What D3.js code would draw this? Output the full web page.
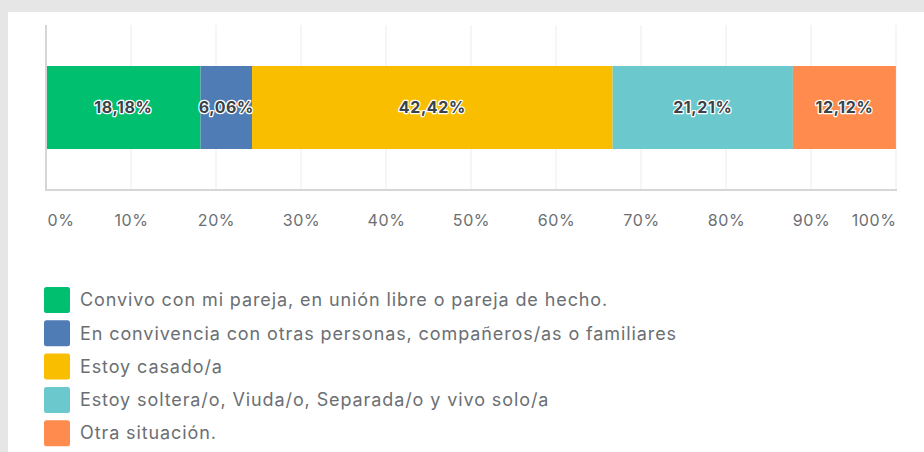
<!DOCTYPE html>
<html>
<head>
<meta charset="utf-8">
<script src="https://cdn.jsdelivr.net/npm/d3@7"></script>
<style>
  body { margin: 0; background: #e6e6e6; }
  svg { display: block; }
</style>
</head>
<body>
<div id="chart-area"></div>
<script>
const categories = [
  "Convivo con mi pareja, en unión libre o pareja de hecho.",
  "En convivencia con otras personas, compañeros/as o familiares",
  "Estoy casado/a",
  "Estoy soltera/o, Viuda/o, Separada/o y vivo solo/a",
  "Otra situación."
]
const values = [18.18, 6.06, 42.42, 21.21, 12.12]
const valueLabels = ["18,18%", "6,06%", "42,42%", "21,21%", "12,12%"]
const colors = ["#00bf6f", "#507cb6", "#f9be00", "#6bc8cd", "#ff8b4f"]
const tickValues = [0, 10, 20, 30, 40, 50, 60, 70, 80, 90, 100]

const W = 924, H = 452
const MARGIN = {LEFT: 46, RIGHT: 28, TOP: 25}
const PLOT_BOTTOM = 190

const svg = d3.select("#chart-area").append("svg")
  .attr("width", W)
  .attr("height", H)

// white card
svg.append("rect")
  .attr("x", 8).attr("y", 12)
  .attr("width", W).attr("height", H)
  .attr("fill", "#fff")

const x = d3.scaleLinear()
  .domain([0, 100])
  .range([MARGIN.LEFT, W - MARGIN.RIGHT])

const y = d3.scaleBand()
  .domain(["row"])
  .range([MARGIN.TOP, PLOT_BOTTOM])
  .paddingInner(0)
  .paddingOuter(0.494)

// gridlines
svg.append("g").selectAll("line")
  .data(tickValues.slice(1))
  .enter().append("line")
  .attr("x1", d => x(d)).attr("x2", d => x(d))
  .attr("y1", MARGIN.TOP).attr("y2", PLOT_BOTTOM)
  .attr("stroke", "#ececec")
  .attr("stroke-width", 1)

// stacked segments
let acc = 0
const segs = values.map((v, i) => {
  const s = {start: acc, end: acc + v, label: valueLabels[i], color: colors[i]}
  acc += v
  return s
})

svg.append("g").selectAll("rect")
  .data(segs)
  .enter().append("rect")
  .attr("x", d => x(d.start))
  .attr("y", y("row"))
  .attr("width", d => x(d.end) - x(d.start))
  .attr("height", y.bandwidth())
  .attr("fill", d => d.color)

svg.append("g").selectAll("text")
  .data(segs)
  .enter().append("text")
  .attr("x", d => (x(d.start) + x(d.end)) / 2)
  .attr("y", y("row") + y.bandwidth() / 2)
  .attr("dy", "0.36em")
  .attr("text-anchor", "middle")
  .attr("font-family", "Inter, Roboto, sans-serif")
  .attr("font-weight", "700")
  .attr("font-size", "16px")
  .attr("letter-spacing", "0.6px")
  .attr("fill", "#3b4248")
  .attr("stroke", "#fff")
  .attr("stroke-width", 2.5)
  .attr("stroke-linejoin", "round")
  .attr("paint-order", "stroke")
  .text(d => d.label)

// axis lines
svg.append("line")
  .attr("x1", x(0)).attr("x2", x(0))
  .attr("y1", MARGIN.TOP).attr("y2", PLOT_BOTTOM)
  .attr("stroke", "#d6d6d6").attr("stroke-width", 2)
svg.append("line")
  .attr("x1", x(0) - 1).attr("x2", x(100) + 1)
  .attr("y1", PLOT_BOTTOM).attr("y2", PLOT_BOTTOM)
  .attr("stroke", "#d6d6d6").attr("stroke-width", 2)

// tick labels
const xAxisCall = d3.axisBottom(x)
  .tickValues(tickValues)
  .tickSize(0)
  .tickFormat(d => d + "%")
const xAxisGroup = svg.append("g")
  .attr("transform", `translate(0, ${PLOT_BOTTOM + 22})`)
  .call(xAxisCall)
xAxisGroup.select(".domain").remove()
xAxisGroup.selectAll("text")
  .attr("font-family", "Inter, Roboto, sans-serif")
  .attr("font-size", "16px")
  .attr("letter-spacing", "0.6px")
  .attr("fill", "#6b6f73")
  .attr("text-anchor", d => d === 0 ? "start" : d === 100 ? "end" : "middle")
  .attr("dx", d => d === 0 ? 1 : 0)

// legend
const legend = svg.append("g").attr("transform", "translate(44, 287)")
const rows = legend.selectAll("g")
  .data(categories)
  .enter().append("g")
  .attr("transform", (d, i) => `translate(0, ${i * 33.3})`)
rows.append("rect")
  .attr("width", 26).attr("height", 26)
  .attr("rx", 2.5)
  .attr("fill", (d, i) => colors[i])
rows.append("text")
  .attr("x", 36)
  .attr("y", 13)
  .attr("dy", "0.35em")
  .attr("font-family", "Inter, Roboto, sans-serif")
  .attr("font-size", "18px")
  .attr("letter-spacing", "0.9px")
  .attr("fill", "#6b6f73")
  .text(d => d)
</script>
</body>
</html>
